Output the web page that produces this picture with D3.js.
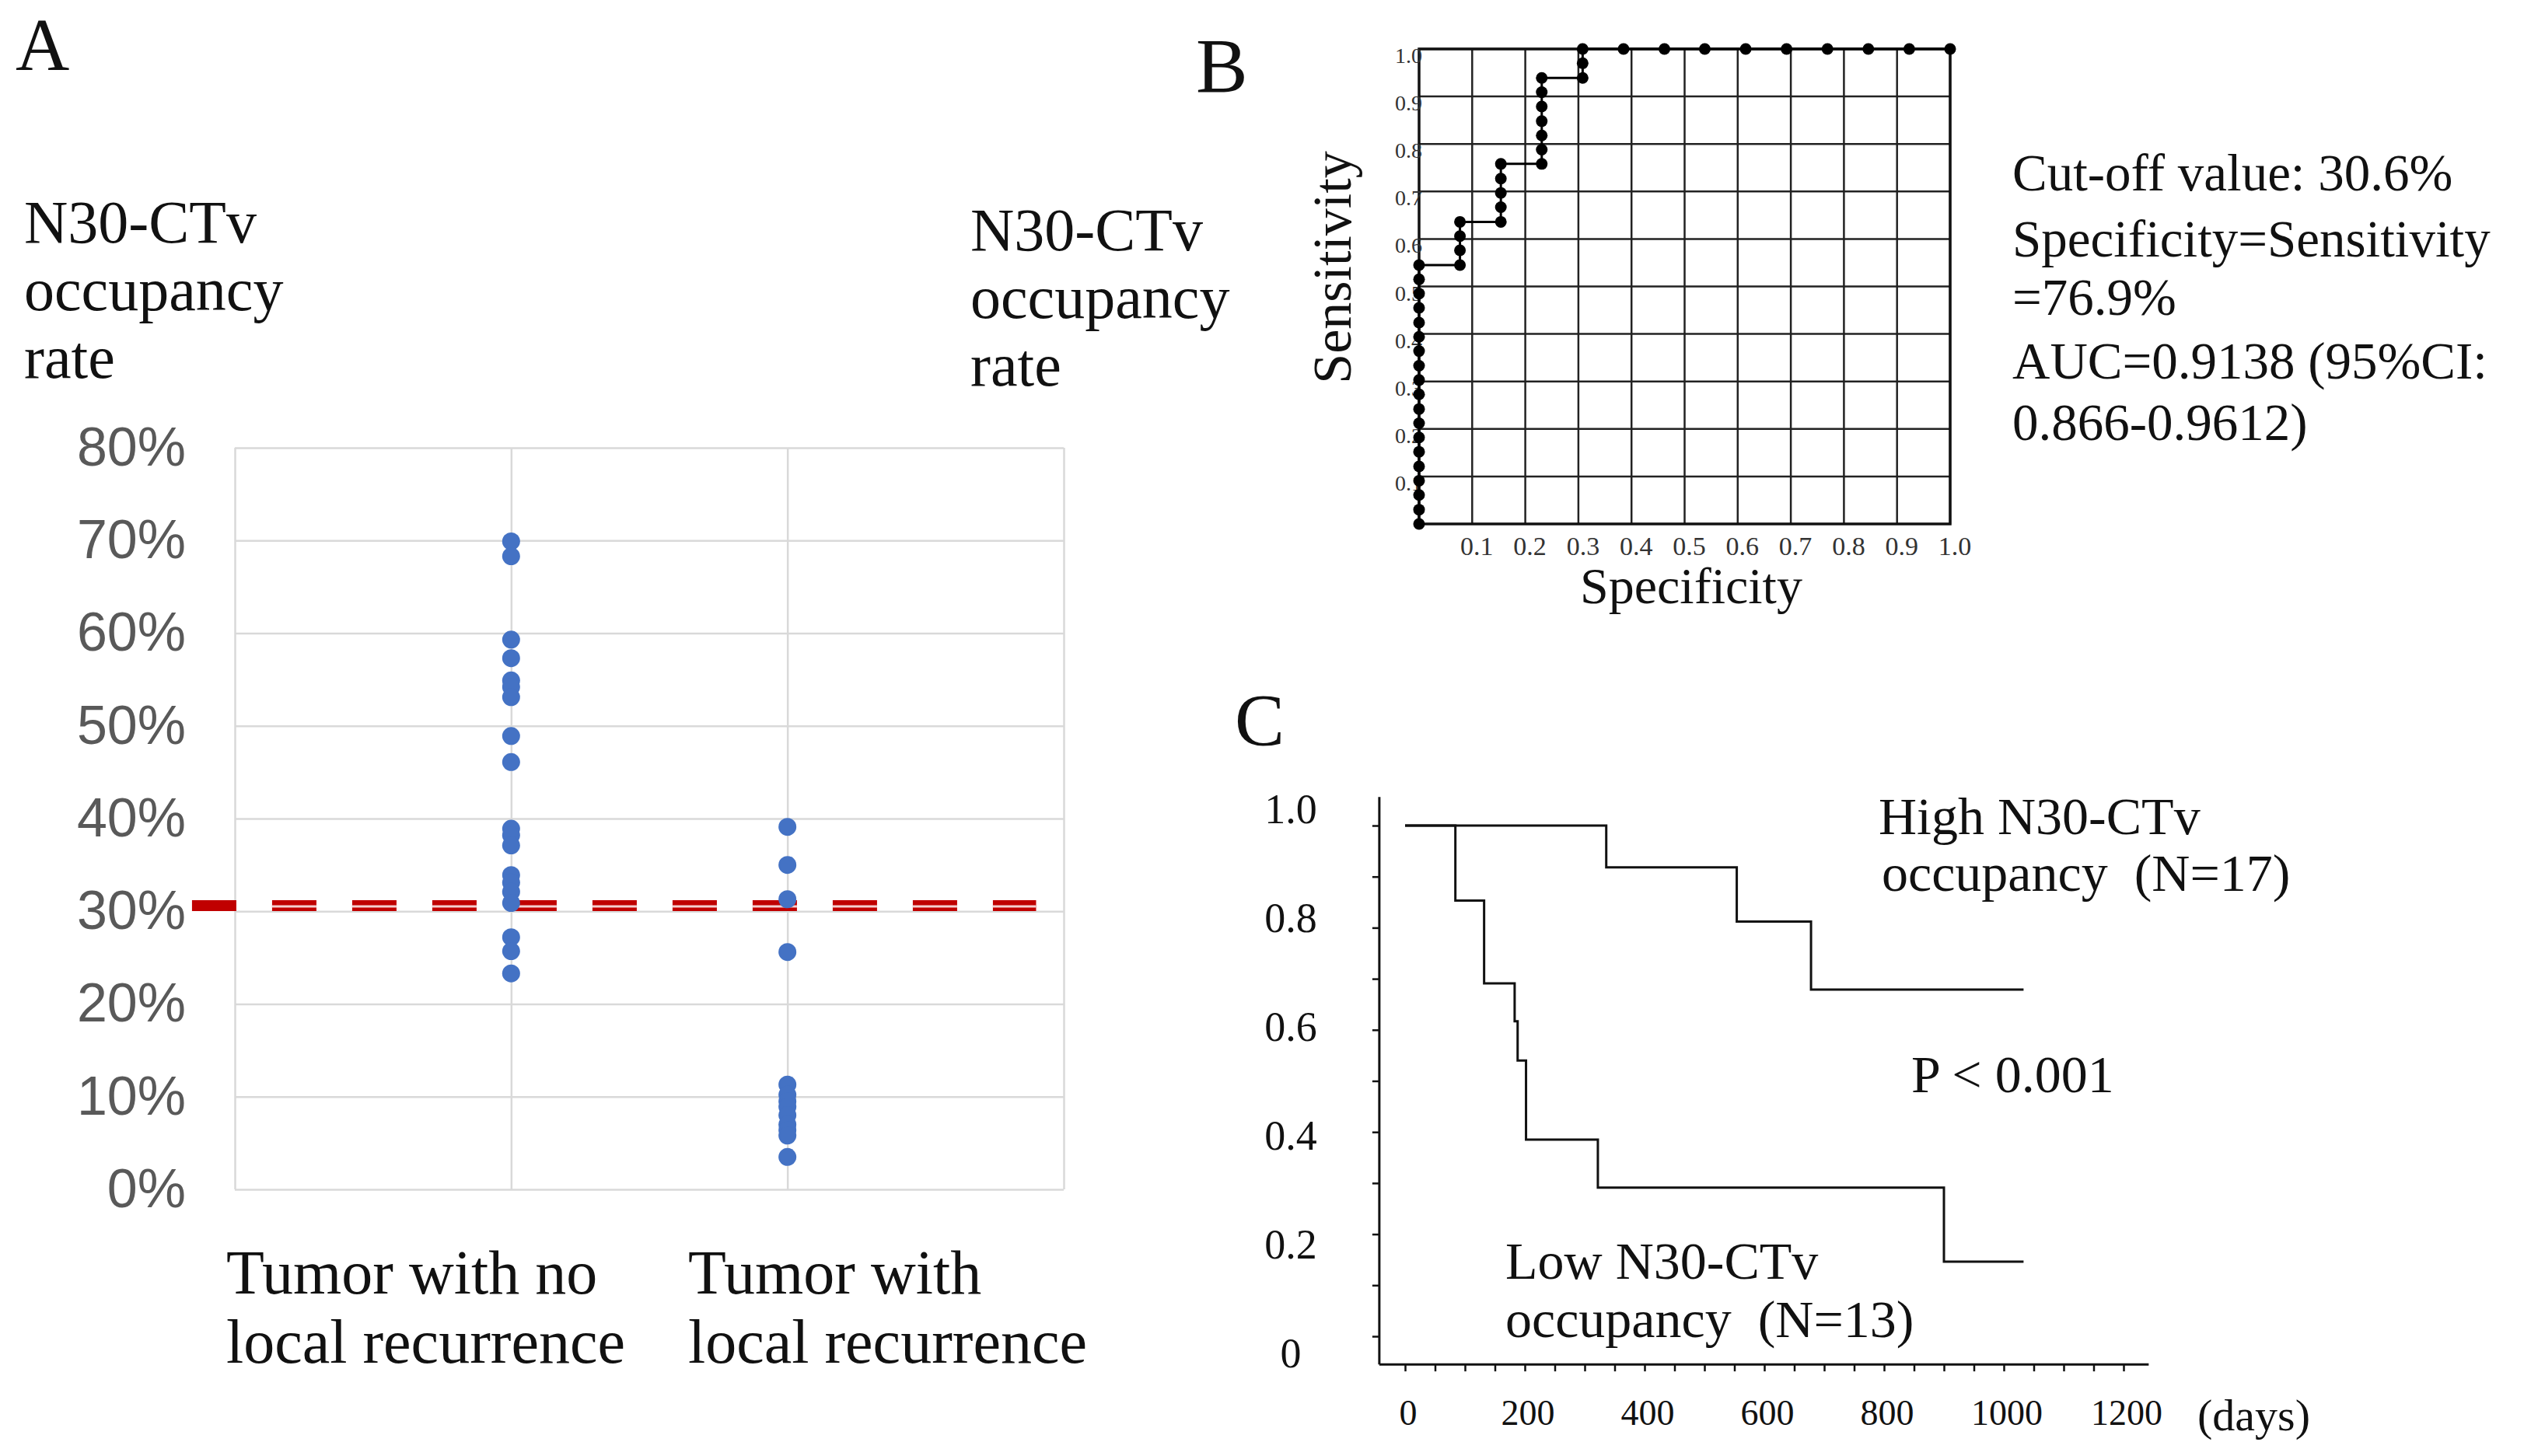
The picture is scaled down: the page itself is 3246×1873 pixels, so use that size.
<!DOCTYPE html>
<html>
<head>
<meta charset="utf-8">
<script src="https://cdn.jsdelivr.net/npm/d3@7"></script>
<style>
  body { margin: 0; background: #fff; }
  text { font-family: "Liberation Serif", "Times New Roman", serif; fill: #111; }
</style>
</head>
<body>
<div id="canvas"></div>
<script>
// ---- panel A: occupancy rate per group (%)
const groupLabels = [["Tumor with no", "local recurrence"], ["Tumor with", "local recurrence"]];
const noRecurrence = [69.9, 68.3, 59.3, 57.3, 54.9, 54.2, 53.1, 48.9, 46.1, 38.9, 38.2, 37.1,
  33.9, 33.1, 32.1, 30.9, 27.2, 25.7, 23.3];
const withRecurrence = [39.1, 35.0, 31.3, 25.6, 11.3, 10.2, 9.5, 8.9, 8.0, 7.0, 6.4, 5.8, 3.5];
const cutoff = 30.6;
const rateTicks = [0, 10, 20, 30, 40, 50, 60, 70, 80];

// ---- panel B: ROC curve
const rocSpec = [0, 0, 0, 0, 0, 0, 0, 0, 0, 0, 0, 0, 0, 0, 0, 0, 0, 0, 0,
  0.077, 0.077, 0.077, 0.077,
  0.154, 0.154, 0.154, 0.154, 0.154,
  0.231, 0.231, 0.231, 0.231, 0.231, 0.231, 0.231,
  0.308, 0.308, 0.308,
  0.385, 0.462, 0.538, 0.615, 0.692, 0.769, 0.846, 0.923, 1.0];
const rocSens = [0, 0.03, 0.061, 0.091, 0.121, 0.152, 0.182, 0.212, 0.242, 0.273, 0.303, 0.333,
  0.364, 0.394, 0.424, 0.455, 0.485, 0.515, 0.545,
  0.545, 0.576, 0.606, 0.636,
  0.636, 0.667, 0.697, 0.727, 0.758,
  0.758, 0.788, 0.818, 0.848, 0.879, 0.909, 0.939,
  0.939, 0.970, 1.0,
  1, 1, 1, 1, 1, 1, 1, 1, 1];
const rocTicks = [0.1, 0.2, 0.3, 0.4, 0.5, 0.6, 0.7, 0.8, 0.9, 1.0];
const rocStats = ["Cut-off value: 30.6%", "Specificity=Sensitivity", "=76.9%",
  "AUC=0.9138 (95%CI:", "0.866-0.9612)"];

// ---- panel C: Kaplan-Meier
const highDays = [0, 336, 554, 678, 1033];
const highSurv = [1, 0.918, 0.812, 0.679, 0.679];
const lowDays = [0, 84, 132, 183, 188, 202, 322, 900, 1033];
const lowSurv = [1, 0.853, 0.691, 0.617, 0.54, 0.385, 0.291, 0.146, 0.146];
const dayTicks = [0, 200, 400, 600, 800, 1000, 1200];
const survTicks = [0, 0.2, 0.4, 0.6, 0.8, 1.0];

const W = 3246, H = 1873;
const svg = d3.select("#canvas").append("svg")
  .attr("width", W).attr("height", H);
svg.append("rect").attr("width", W).attr("height", H).attr("fill", "#fff");

// ================= A =================
const xA = d3.scaleLinear().domain([0, 3]).range([302, 1368]);
const yA = d3.scaleLinear().domain([0, 80]).range([1530, 576]);

svg.append("text").attr("x", 20).attr("y", 90).attr("font-size", 96).text("A");

["N30-CTv", "occupancy", "rate"].forEach((t, i) => {
  svg.append("text").attr("x", 31).attr("y", 312 + i * 87).attr("font-size", 78).text(t);
  svg.append("text").attr("x", 1248).attr("y", 322 + i * 87).attr("font-size", 78).text(t);
});

const gA = svg.append("g");
const yAxisA = gA.append("g")
  .attr("transform", `translate(${xA(0)},0)`)
  .call(d3.axisLeft(yA).tickValues(rateTicks).tickSize(-(xA(3) - xA(0)))
    .tickPadding(63).tickFormat(d => d + "%"));
yAxisA.select(".domain").remove();
yAxisA.selectAll("line").attr("stroke", "#d9d9d9").attr("stroke-width", 2.5);
yAxisA.selectAll("text").style("font-family", "'Liberation Sans', Arial, sans-serif")
  .attr("font-size", 70).style("fill", "#595959");

const xAxisA = gA.append("g")
  .attr("transform", `translate(0,${yA(0)})`)
  .call(d3.axisBottom(xA).tickValues([0, 1, 2, 3]).tickSize(-(yA(0) - yA(80))).tickFormat(""));
xAxisA.select(".domain").remove();
xAxisA.selectAll("line").attr("stroke", "#d9d9d9").attr("stroke-width", 2.5);

// cut-off line (double red dashes)
const refExtent = [-0.155, 2.9];
gA.append("line")
  .attr("x1", xA(refExtent[0])).attr("x2", xA(refExtent[1]))
  .attr("y1", yA(cutoff)).attr("y2", yA(cutoff))
  .attr("stroke", "#c00000").attr("stroke-width", 14)
  .attr("stroke-dasharray", "57 46");
gA.append("line")
  .attr("x1", xA(refExtent[0]) + 103).attr("x2", xA(refExtent[1]))
  .attr("y1", yA(cutoff) + 1).attr("y2", yA(cutoff) + 1)
  .attr("stroke", "#f4d0d0").attr("stroke-width", 3)
  .attr("stroke-dasharray", "57 46");

[noRecurrence, withRecurrence].forEach((vals, gi) => {
  gA.selectAll(null).data(vals).enter().append("circle")
    .attr("cx", xA(gi + 1)).attr("cy", d => yA(d)).attr("r", 11.5)
    .attr("fill", "#4472c4");
});

groupLabels.forEach((lines, gi) => {
  lines.forEach((t, li) => {
    svg.append("text").attr("x", gi === 0 ? 291 : 885).attr("y", 1664 + li * 89)
      .attr("font-size", 80).text(t);
  });
});

// ================= B =================
const xB = d3.scaleLinear().domain([0, 1]).range([1825, 2508]);
const yB = d3.scaleLinear().domain([0, 1]).range([674, 63]);
const gB = svg.append("g");

svg.append("text").attr("x", 1538).attr("y", 118).attr("font-size", 100).text("B");

gB.selectAll(".vg").data(rocTicks).enter().append("line")
  .attr("x1", d => xB(d)).attr("x2", d => xB(d)).attr("y1", yB(0)).attr("y2", yB(1))
  .attr("stroke", "#222").attr("stroke-width", 2.5);
gB.selectAll(".hg").data(rocTicks).enter().append("line")
  .attr("x1", xB(0)).attr("x2", xB(1)).attr("y1", d => yB(d)).attr("y2", d => yB(d))
  .attr("stroke", "#222").attr("stroke-width", 2.5);
gB.append("rect").attr("x", xB(0)).attr("y", yB(1))
  .attr("width", xB(1) - xB(0)).attr("height", yB(0) - yB(1))
  .attr("fill", "none").attr("stroke", "#111").attr("stroke-width", 3.5);

gB.selectAll(".yl").data(rocTicks).enter().append("text")
  .attr("x", xB(0) + 4).attr("y", d => yB(d) + 18)
  .attr("text-anchor", "end").attr("font-size", 28).style("fill", "#333")
  .text(d => d.toFixed(1));
gB.selectAll(".xl").data(rocTicks).enter().append("text")
  .attr("x", d => xB(d) + 6).attr("y", yB(0) + 40)
  .attr("text-anchor", "middle").attr("font-size", 34).style("fill", "#333")
  .text(d => d.toFixed(1));

const rocPts = rocSpec.map((s, i) => [s, rocSens[i]]);
gB.append("path").datum(rocPts)
  .attr("d", d3.line().x(d => xB(d[0])).y(d => yB(d[1])))
  .attr("fill", "none").attr("stroke", "#000").attr("stroke-width", 3);
gB.selectAll(".pt").data(rocPts).enter().append("circle")
  .attr("cx", d => xB(d[0])).attr("cy", d => yB(d[1])).attr("r", 7.5).attr("fill", "#000");

svg.append("text").attr("x", 2175).attr("y", 776).attr("text-anchor", "middle")
  .attr("font-size", 66).text("Specificity");
svg.append("text").attr("transform", "translate(1737,344) rotate(-90)")
  .attr("text-anchor", "middle").attr("font-size", 70).text("Sensitivity");

rocStats.forEach((t, i) => {
  svg.append("text").attr("x", 2588).attr("y", [245, 330, 405, 487, 566][i])
    .attr("font-size", 67).text(t);
});

// ================= C =================
const xC = d3.scaleLinear().domain([0, 1200]).range([1807, 2731]);
const yC = d3.scaleLinear().domain([0, 1]).range([1719, 1062]);
const yLab = d3.scaleLinear().domain([0, 1]).range([1740, 1040]);
const gC = svg.append("g");

svg.append("text").attr("x", 1588).attr("y", 959).attr("font-size", 96).text("C");

const yAxisC = gC.append("g").attr("transform", `translate(${xC(-43)},0)`)
  .call(d3.axisLeft(yC).tickValues(d3.range(0, 1.01, 0.1)).tickSize(9).tickFormat(""));
yAxisC.select(".domain").remove();
yAxisC.selectAll("line").attr("stroke", "#111").attr("stroke-width", 2.5);
gC.append("line").attr("x1", xC(-43)).attr("x2", xC(-43))
  .attr("y1", yC(1.056)).attr("y2", yC(-0.055))
  .attr("stroke", "#111").attr("stroke-width", 3);

const xAxisC = gC.append("g").attr("transform", `translate(0,${yC(-0.055)})`)
  .call(d3.axisBottom(xC).tickValues(d3.range(0, 1201, 50)).tickSize(9).tickFormat(""));
xAxisC.select(".domain").remove();
xAxisC.selectAll("line").attr("stroke", "#111").attr("stroke-width", 2.5);
gC.append("line").attr("x1", xC(-43)).attr("x2", xC(1242))
  .attr("y1", yC(-0.055)).attr("y2", yC(-0.055))
  .attr("stroke", "#111").attr("stroke-width", 3);

gC.selectAll(".yl").data(survTicks).enter().append("text")
  .attr("x", 1660).attr("y", d => yLab(d) + 19).attr("text-anchor", "middle")
  .attr("font-size", 54).text(d => d === 0 ? "0" : d.toFixed(1));
gC.selectAll(".xl").data(dayTicks).enter().append("text")
  .attr("x", d => xC(d) + 4).attr("y", yC(-0.055) + 78).attr("text-anchor", "middle")
  .attr("font-size", 46).text(d => d);
svg.append("text").attr("x", 2826).attr("y", 1840).attr("font-size", 58).text("(days)");

const km = d3.line().curve(d3.curveStepAfter).x(d => xC(d[0])).y(d => yC(d[1]));
[[highDays, highSurv], [lowDays, lowSurv]].forEach(([ds, ss]) => {
  gC.append("path").datum(ds.map((d, i) => [d, ss[i]]))
    .attr("d", km).attr("fill", "none").attr("stroke", "#111").attr("stroke-width", 3);
});

const kmText = [
  { t: "High N30-CTv", x: 2416, y: 1073 },
  { t: "occupancy  (N=17)", x: 2420, y: 1146 },
  { t: "P < 0.001", x: 2458, y: 1405 },
  { t: "Low N30-CTv", x: 1936, y: 1645 },
  { t: "occupancy  (N=13)", x: 1936, y: 1720 }
];
kmText.forEach(d => {
  svg.append("text").attr("x", d.x).attr("y", d.y).attr("font-size", 68)
    .style("white-space", "pre").text(d.t);
});
</script>
</body>
</html>
